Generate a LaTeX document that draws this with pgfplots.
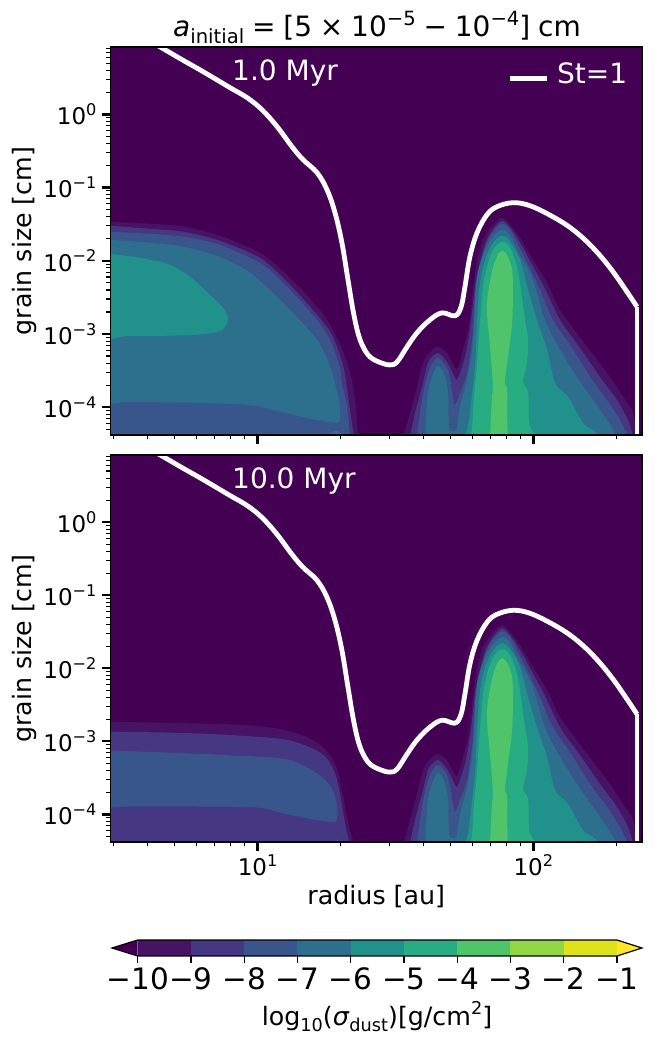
\documentclass[border=0pt]{standalone}
\usepackage{fontspec}
\setmainfont{DejaVu Sans}
\usepackage{pgfplots}
\usepackage{pgfplotstable}
\pgfplotsset{compat=1.18}
\definecolor{c0}{HTML}{440154}
\definecolor{c1}{HTML}{471365}
\definecolor{c2}{HTML}{453781}
\definecolor{c3}{HTML}{39568C}
\definecolor{c4}{HTML}{2D708E}
\definecolor{c5}{HTML}{21918C}
\definecolor{c6}{HTML}{27AD81}
\definecolor{c7}{HTML}{50C46A}
\definecolor{c8}{HTML}{90D743}
\definecolor{c9}{HTML}{DDE318}
\definecolor{c10}{HTML}{FDE725}
\newcommand\supr[1]{\raisebox{.40em}{\scalebox{.7}{#1}}}
\newcommand\subr[1]{\raisebox{-.24em}{\scalebox{.7}{#1}}}
\newcommand\tlab[1]{10\supr{#1}}
% all tables: log10(radius/au)  log10(grain size/cm)
\pgfplotstableread{
lr la
0.635 0.945
0.659 0.894
0.730 0.738
0.802 0.584
0.900 0.365
0.962 0.228
1.016 0.064
1.071 -0.168
1.125 -0.442
1.165 -0.619
1.216 -0.797
1.252 -1.030
1.281 -1.344
1.306 -1.754
1.328 -2.260
1.346 -2.670
1.364 -2.984
1.383 -3.176
1.408 -3.313
1.444 -3.388
1.480 -3.422
1.506 -3.381
1.542 -3.176
1.578 -2.984
1.625 -2.807
1.669 -2.711
1.716 -2.752
1.738 -2.629
1.752 -2.356
1.770 -1.945
1.796 -1.617
1.832 -1.371
1.868 -1.262
1.926 -1.207
1.988 -1.248
2.071 -1.399
2.144 -1.576
2.216 -1.822
2.289 -2.150
2.376 -2.629
}\stcurve
\pgfplotstableread{
lr la
2.376 -2.629
2.376 -4.40
}\stedge
% right-hand structure (same in both panels)
\pgfplotstableread{
lr la
1.528 -4.40
1.553 -4.078
1.578 -3.723
1.600 -3.395
1.625 -3.244
1.654 -3.176
1.680 -3.231
1.698 -3.326
1.723 -3.477
1.745 -3.217
1.763 -2.943
1.774 -2.670
1.781 -2.397
1.796 -2.014
1.818 -1.713
1.854 -1.508
1.887 -1.412
1.916 -1.508
1.952 -1.686
1.999 -1.986
2.050 -2.301
2.090 -2.629
2.122 -2.807
2.195 -3.176
2.267 -3.531
2.325 -3.859
2.362 -4.078
2.369 -4.40
}\RRa
\pgfplotstableread{
lr la
1.553 -4.40
1.571 -4.078
1.596 -3.723
1.618 -3.395
1.636 -3.299
1.654 -3.258
1.676 -3.326
1.698 -3.449
1.716 -3.600
1.727 -3.600
1.752 -3.313
1.770 -2.943
1.781 -2.602
1.792 -2.260
1.807 -2.014
1.828 -1.740
1.858 -1.549
1.887 -1.453
1.916 -1.549
1.948 -1.727
1.992 -2.028
2.039 -2.356
2.097 -2.807
2.169 -3.190
2.242 -3.586
2.303 -3.900
2.343 -4.174
2.362 -4.40
}\RRb
\pgfplotstableread{
lr la
1.578 -4.40
1.589 -4.078
1.607 -3.695
1.625 -3.463
1.640 -3.367
1.654 -3.326
1.673 -3.381
1.694 -3.531
1.709 -3.859
1.716 -3.969
1.734 -3.805
1.760 -3.531
1.778 -3.080
1.785 -2.807
1.789 -2.438
1.807 -2.082
1.825 -1.809
1.854 -1.604
1.887 -1.494
1.916 -1.576
1.941 -1.754
1.981 -2.055
2.024 -2.397
2.071 -2.807
2.140 -3.190
2.206 -3.586
2.267 -3.900
2.314 -4.174
2.343 -4.40
}\RRc
\pgfplotstableread{
lr la
1.611 -4.40
1.611 -4.174
1.618 -3.805
1.633 -3.586
1.644 -3.477
1.654 -3.436
1.669 -3.490
1.680 -3.586
1.691 -3.805
1.694 -4.270
1.709 -4.324
1.723 -4.283
1.734 -3.996
1.760 -3.627
1.778 -3.217
1.785 -2.807
1.796 -2.219
1.821 -1.891
1.854 -1.672
1.887 -1.576
1.916 -1.658
1.944 -1.877
1.995 -2.233
2.042 -2.807
2.097 -3.217
2.158 -3.586
2.216 -3.900
2.267 -4.174
2.303 -4.40
}\RRd
\pgfplotstableread{
lr la
1.749 -4.40
1.760 -4.311
1.770 -4.078
1.789 -3.395
1.796 -2.807
1.807 -2.301
1.825 -1.986
1.854 -1.754
1.887 -1.658
1.916 -1.740
1.952 -1.986
1.981 -2.397
2.013 -2.807
2.050 -3.217
2.079 -3.668
2.126 -3.859
2.180 -4.215
2.216 -4.311
2.242 -4.40
}\RRe
\pgfplotstableread{
lr la
1.770 -4.40
1.778 -4.270
1.785 -3.859
1.796 -3.395
1.807 -2.807
1.818 -2.356
1.832 -2.082
1.854 -1.850
1.887 -1.740
1.916 -1.822
1.941 -2.082
1.955 -2.397
1.970 -2.807
1.981 -3.080
1.977 -3.395
1.963 -3.654
1.981 -3.791
1.984 -4.174
1.995 -4.311
2.013 -4.40
}\RRf
\pgfplotstableread{
lr la
1.843 -4.40
1.850 -3.859
1.854 -3.723
1.843 -3.176
1.832 -2.711
1.836 -2.438
1.850 -2.150
1.868 -1.945
1.887 -1.863
1.908 -1.945
1.923 -2.123
1.926 -2.397
1.923 -2.848
1.908 -3.313
1.897 -3.654
1.905 -3.764
1.905 -4.133
1.908 -4.40
}\RRg
% left-hand structure, 1 Myr
\pgfplotstableread{
lr la
0.30 -4.40
0.30 -1.460
0.45 -1.467
0.610 -1.494
0.730 -1.531
0.853 -1.645
0.973 -1.822
1.034 -1.959
1.118 -2.233
1.216 -2.629
1.274 -2.943
1.328 -3.422
1.354 -3.900
1.364 -4.40
}\LAa
\pgfplotstableread{
lr la
0.30 -4.40
0.30 -1.515
0.45 -1.522
0.610 -1.563
0.730 -1.604
0.853 -1.713
0.973 -1.891
1.034 -2.028
1.118 -2.328
1.216 -2.738
1.270 -3.012
1.310 -3.422
1.325 -3.764
1.339 -4.133
1.350 -4.40
}\LAb
\pgfplotstableread{
lr la
0.30 -4.40
0.30 -1.597
0.45 -1.604
0.610 -1.631
0.730 -1.672
0.853 -1.768
0.973 -1.959
1.034 -2.096
1.118 -2.397
1.216 -2.807
1.263 -3.080
1.299 -3.463
1.306 -3.668
1.325 -3.996
1.335 -4.40
}\LAc
\pgfplotstableread{
lr la
0.30 -1.700
0.45 -1.713
0.610 -1.754
0.730 -1.809
0.853 -1.932
0.973 -2.164
1.092 -2.574
1.216 -3.080
1.263 -3.449
1.274 -3.586
1.296 -3.900
1.299 -4.078
1.299 -4.174
1.288 -4.215
1.263 -4.201
1.180 -4.147
1.056 -4.037
0.973 -3.969
0.792 -3.941
0.549 -3.928
0.491 -3.941
0.45 -3.955
0.30 -3.970
}\LAd
\pgfplotstableread{
lr la
0.30 -1.890
0.45 -1.904
0.549 -1.945
0.610 -1.986
0.683 -2.055
0.755 -2.219
0.828 -2.465
0.875 -2.643
0.893 -2.779
0.882 -2.902
0.853 -2.971
0.766 -3.012
0.646 -3.025
0.549 -3.025
0.502 -3.039
0.45 -3.080
0.30 -3.120
}\LAe
\pgfplotstableread{
lr la
1.252 -4.40
1.270 -4.338
1.292 -4.324
1.310 -4.40
}\LAf
% left-hand structure, 10 Myr
\pgfplotstableread{
lr la
0.30 -4.40
0.30 -2.725
0.45 -2.731
0.672 -2.748
0.853 -2.762
0.973 -2.785
1.092 -2.840
1.180 -2.945
1.238 -3.082
1.281 -3.305
1.306 -3.674
1.325 -4.043
1.335 -4.221
1.350 -4.40
}\LBa
\pgfplotstableread{
lr la
0.30 -4.40
0.30 -2.860
0.45 -2.867
0.672 -2.881
0.853 -2.904
1.034 -2.949
1.118 -2.990
1.201 -3.100
1.252 -3.236
1.281 -3.441
1.299 -3.715
1.317 -4.125
1.325 -4.261
1.335 -4.40
}\LBb
\pgfplotstableread{
lr la
0.30 -3.120
0.45 -3.127
0.672 -3.154
0.911 -3.195
1.092 -3.236
1.165 -3.332
1.227 -3.469
1.270 -3.647
1.288 -3.879
1.288 -4.057
1.281 -4.111
1.252 -4.098
1.180 -4.057
1.082 -3.975
0.998 -3.907
0.792 -3.893
0.538 -3.893
0.45 -3.907
0.30 -3.915
}\LBc
\pgfplotstableread{
lr la
1.263 -4.40
1.288 -4.344
1.306 -4.40
}\LBd
\newcommand\cband[2]{\addplot[fill=#1,draw=none,smooth,tension=0.55,forget plot]
  table[x expr=10^(\thisrow{lr}),y expr=10^(\thisrow{la})] {#2};}
\newcommand\rightside{%
  \cband{c1}{\RRa}\cband{c2}{\RRb}\cband{c3}{\RRc}\cband{c4}{\RRd}\cband{c5}{\RRe}\cband{c6}{\RRf}\cband{c7}{\RRg}}
\newcommand\stline{%
  \addplot[white,line width=4.8pt,smooth,tension=0.6,line join=round]
    table[x expr=10^(\thisrow{lr}),y expr=10^(\thisrow{la})] {\stcurve};
  \addplot[white,line width=4.8pt,forget plot]
    table[x expr=10^(\thisrow{lr}),y expr=10^(\thisrow{la})] {\stedge};}
\pgfplotsset{
  chartpanel/.style={
    scale only axis,width=531.5pt,axis on top,
    xmin=2.931,xmax=247.7,ymin=4.18e-5,ymax=8.3,
    axis background/.style={fill=c0},
    axis line style={line width=1.3pt,black},
    tick align=outside,xtick pos=lower,ytick pos=left,
    major tick length=9pt,minor tick length=4.5pt,
    every major tick/.style={line width=2.4pt,black},
    every minor tick/.style={line width=1.2pt,black},
    xtick={10,100},
    minor xtick={3,4,5,6,7,8,9,20,30,40,50,60,70,80,90,200},
    ytick={1e-4,1e-3,1e-2,1e-1,1},
    yticklabels={\tlab{−4},\tlab{−3},\tlab{−2},\tlab{−1},\tlab{0}},
    minor ytick={5e-5,6e-5,7e-5,8e-5,9e-5,2e-4,3e-4,4e-4,5e-4,6e-4,7e-4,8e-4,9e-4,
      2e-3,3e-3,4e-3,5e-3,6e-3,7e-3,8e-3,9e-3,2e-2,3e-2,4e-2,5e-2,6e-2,7e-2,8e-2,9e-2,
      2e-1,3e-1,4e-1,5e-1,6e-1,7e-1,8e-1,9e-1,2,3,4,5,6,7,8},
    tick label style={font=\fontsize{23}{28}\selectfont},
    yticklabel style={xshift=-1.5pt},
    ylabel={grain size [cm]},
    every axis y label/.style={at={(axis description cs:-0.161,0.5)},rotate=90,anchor=center,
      font=\fontsize{25.3}{30}\selectfont},
    every axis x label/.style={at={(axis description cs:0.5,-0.14)},anchor=center,
      font=\fontsize{25.3}{30}\selectfont},
  }
}
\begin{document}
\begin{tikzpicture}[x=1pt,y=1pt]
\path[use as bounding box] (0,0) rectangle (654,1045);
% top panel
\begin{loglogaxis}[chartpanel,at={(110.5pt,610pt)},anchor=south west,height=388pt,
  xticklabels={},
  ]
  \cband{c1}{\LAa}\cband{c2}{\LAb}\cband{c3}{\LAc}\cband{c4}{\LAd}\cband{c5}{\LAe}\cband{c4}{\LAf}
  \rightside
  \stline
  \node[anchor=base west,inner sep=0pt,text=white,font=\fontsize{28}{32}\selectfont] at (rel axis cs:0.2286,0.913) {1.0 Myr};
  \draw[white,line width=5pt] (rel axis cs:0.7516,0.920) -- (rel axis cs:0.8213,0.920);
  \node[anchor=base west,inner sep=0pt,text=white,font=\fontsize{28}{32}\selectfont] at (rel axis cs:0.840,0.907) {St=1};
\end{loglogaxis}
% bottom panel
\begin{loglogaxis}[chartpanel,at={(110.5pt,203pt)},anchor=south west,height=387pt,
  xticklabels={\tlab{1},\tlab{2}},
  xlabel={radius [au]},
  ]
  \cband{c1}{\LBa}\cband{c2}{\LBb}\cband{c3}{\LBc}\cband{c3}{\LBd}
  \rightside
  \stline
  \node[anchor=base west,inner sep=0pt,text=white,font=\fontsize{28}{32}\selectfont] at (rel axis cs:0.2286,0.913) {10.0 Myr};
\end{loglogaxis}
% colour bar
\begin{axis}[at={(112pt,89pt)},anchor=south west,scale only axis,width=530pt,height=16pt,
  xmin=-10.483,xmax=-0.53,ymin=0,ymax=1,clip=false,
  axis line style={draw=none},ytick=\empty,
  tick align=outside,xtick pos=lower,
  xtick={-10,-9,-8,-7,-6,-5,-4,-3,-2,-1},
  xticklabels={−10,−9,−8,−7,−6,−5,−4,−3,−2,−1},
  major tick length=6.5pt,
  every major tick/.style={line width=1.2pt,black},
  tick label style={font=\fontsize{29.5}{34}\selectfont,inner sep=1pt,yshift=-4pt},
  xlabel={log\subr{10}(\textit{σ}\subr{dust})[g/cm\supr{2}]},
  every axis x label/.style={at={(axis description cs:0.5,-3.79)},anchor=center,
    font=\fontsize{25.3}{30}\selectfont},
  ]
  \addplot[fill=c0,draw=none,forget plot] coordinates {(-10,0)(-10.483,0.5)(-10,1)};
  \addplot[fill=c1,draw=none,forget plot] coordinates {(-10,0)(-9,0)(-9,1)(-10,1)};
  \addplot[fill=c2,draw=none,forget plot] coordinates {(-9,0)(-8,0)(-8,1)(-9,1)};
  \addplot[fill=c3,draw=none,forget plot] coordinates {(-8,0)(-7,0)(-7,1)(-8,1)};
  \addplot[fill=c4,draw=none,forget plot] coordinates {(-7,0)(-6,0)(-6,1)(-7,1)};
  \addplot[fill=c5,draw=none,forget plot] coordinates {(-6,0)(-5,0)(-5,1)(-6,1)};
  \addplot[fill=c6,draw=none,forget plot] coordinates {(-5,0)(-4,0)(-4,1)(-5,1)};
  \addplot[fill=c7,draw=none,forget plot] coordinates {(-4,0)(-3,0)(-3,1)(-4,1)};
  \addplot[fill=c8,draw=none,forget plot] coordinates {(-3,0)(-2,0)(-2,1)(-3,1)};
  \addplot[fill=c9,draw=none,forget plot] coordinates {(-2,0)(-1,0)(-1,1)(-2,1)};
  \addplot[fill=c10,draw=none,forget plot] coordinates {(-1,0)(-0.53,0.5)(-1,1)};
  \addplot[black,line width=1.2pt,forget plot] coordinates {(-10,0)(-10.483,0.5)(-10,1)(-1,1)(-0.53,0.5)(-1,0)(-10,0)};
\end{axis}
% title
\node[anchor=base,font=\fontsize{28}{32}\selectfont] at (377,1008)
  {\textit{a}\subr{initial}\hspace{.28em}=\hspace{.28em}[5\hspace{.28em}×\hspace{.28em}10\supr{−5}\hspace{.28em}−\hspace{.28em}10\supr{−4}]\hspace{.28em}cm};
\end{tikzpicture}
\end{document}
